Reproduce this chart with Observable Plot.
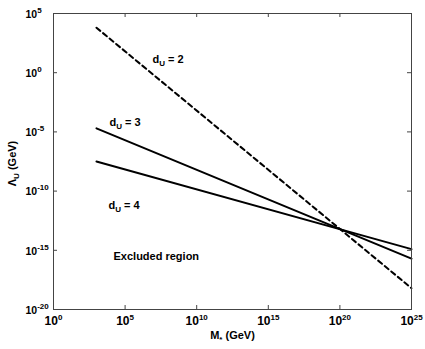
<!DOCTYPE html>
<html><head><meta charset="utf-8">
<script src="https://cdn.jsdelivr.net/npm/d3@7"></script>
<script src="https://cdn.jsdelivr.net/npm/@observablehq/plot@0.6"></script>
<style>
body{margin:0;background:#fff}
svg{font-family:"Liberation Sans",Arial,Helvetica,sans-serif}
</style>
</head><body><div id="chart"></div>
<script>
// ---- data ----
const massRange = [1e3, 1e25];                 // M_* (GeV) endpoints of each curve
const seriesNames = ["d_{U} = 2", "d_{U} = 3", "d_{U} = 4"];
const lambdaDU2 = [10 ** 3.8, 10 ** -18.2];     // Λ_U (GeV)
const lambdaDU3 = [10 ** -4.7, 10 ** -15.7];
const lambdaDU4 = [10 ** -7.5, 10 ** -14.9];
const xTicks = [1e0, 1e5, 1e10, 1e15, 1e20, 1e25];
const yTicks = [1e-20, 1e-15, 1e-10, 1e-5, 1e0, 1e5];
const annotationTexts = ["d_{U} = 2", "d_{U} = 3", "d_{U} = 4", "Excluded region"];
const annotationM = [10 ** 6.91, 10 ** 3.91, 10 ** 3.84, 10 ** 4.19];
const annotationLambda = [10 ** 0.86, 10 ** -4.46, 10 ** -11.47, 10 ** -15.86];
const xTitle = "M_{*} (GeV)";
const yTitle = "Λ_{U} (GeV)";

// ---- tables ----
const allLambda = [lambdaDU2, lambdaDU3, lambdaDU4];
const rows = [];
seriesNames.forEach((s, i) => massRange.forEach((m, j) => rows.push({series: s, M: m, L: allLambda[i][j]})));
const annotations = annotationTexts.map((t, i) => ({text: t, M: annotationM[i], L: annotationLambda[i]}));
const expLabel = d => `10^{${Math.round(Math.log10(d))}}`;

const W = 425, H = 349, mL = 53, mR = 14, mT = 13, mB = 40;
const innerW = W - mL - mR, innerH = H - mT - mB, tick = 4;
const font = {fontSize: 11, fontWeight: "bold", fill: "black"};

const plot = Plot.plot({
  width: W, height: H,
  marginLeft: mL, marginRight: mR, marginTop: mT, marginBottom: mB,
  x: {type: "log", domain: [1, 1e25], axis: null},
  y: {type: "log", domain: [1e-20, 1e5], axis: null},
  marks: [
    Plot.line(rows.filter(d => d.series === seriesNames[0]), {x: "M", y: "L", stroke: "black", strokeWidth: 2, strokeDasharray: "5,3.5"}),
    Plot.line(rows.filter(d => d.series !== seriesNames[0]), {x: "M", y: "L", z: "series", stroke: "black", strokeWidth: 2}),
    Plot.tickX(xTicks, {x: d => d, insetTop: innerH - tick, stroke: "#444"}),
    Plot.tickX(xTicks, {x: d => d, insetBottom: innerH - tick, stroke: "#444"}),
    Plot.tickY(yTicks, {y: d => d, insetRight: innerW - tick, stroke: "#444"}),
    Plot.tickY(yTicks, {y: d => d, insetLeft: innerW - tick, stroke: "#444"}),
    Plot.frame({stroke: "#444"}),
    Plot.text(xTicks, {x: d => d, text: expLabel, frameAnchor: "bottom", dy: 7, lineAnchor: "top", textAnchor: "middle", ...font, fontSize: 12}),
    Plot.text(yTicks, {y: d => d, text: expLabel, frameAnchor: "left", dx: -28, dy: 1, lineAnchor: "middle", textAnchor: "start", ...font, fontSize: 10.5}),
    Plot.text([xTitle], {text: d => d, frameAnchor: "bottom", dy: 29, lineAnchor: "bottom", textAnchor: "middle", ...font}),
    Plot.text([yTitle], {text: d => d, frameAnchor: "left", dx: -38, dy: 2, rotate: -90, lineAnchor: "bottom", textAnchor: "middle", ...font}),
    Plot.text(annotations, {x: "M", y: "L", text: "text", textAnchor: "start", lineAnchor: "bottom", ...font})
  ]
});

// rich text: ^{sup} and _{sub}
d3.select(plot).selectAll("text").each(function () {
  const el = this;
  const s = el.textContent;
  if (!/[\^_]\{/.test(s)) return;
  const parts = s.split(/(\^\{[^}]*\}|_\{[^}]*\})/).filter(p => p !== "");
  el.textContent = "";
  let shift = 0;
  for (const p of parts) {
    const t = document.createElementNS("http://www.w3.org/2000/svg", "tspan");
    let target = 0, txt = p, small = false;
    if (p.startsWith("^{")) { target = -5; txt = p.slice(2, -1); small = true; }
    else if (p.startsWith("_{")) { target = 3; txt = p.slice(2, -1); small = true; }
    if (target !== shift) t.setAttribute("dy", target - shift);
    shift = target;
    if (small) t.setAttribute("font-size", 8);
    t.textContent = txt;
    el.appendChild(t);
  }
});

document.getElementById("chart").appendChild(plot);
</script>
</body></html>
